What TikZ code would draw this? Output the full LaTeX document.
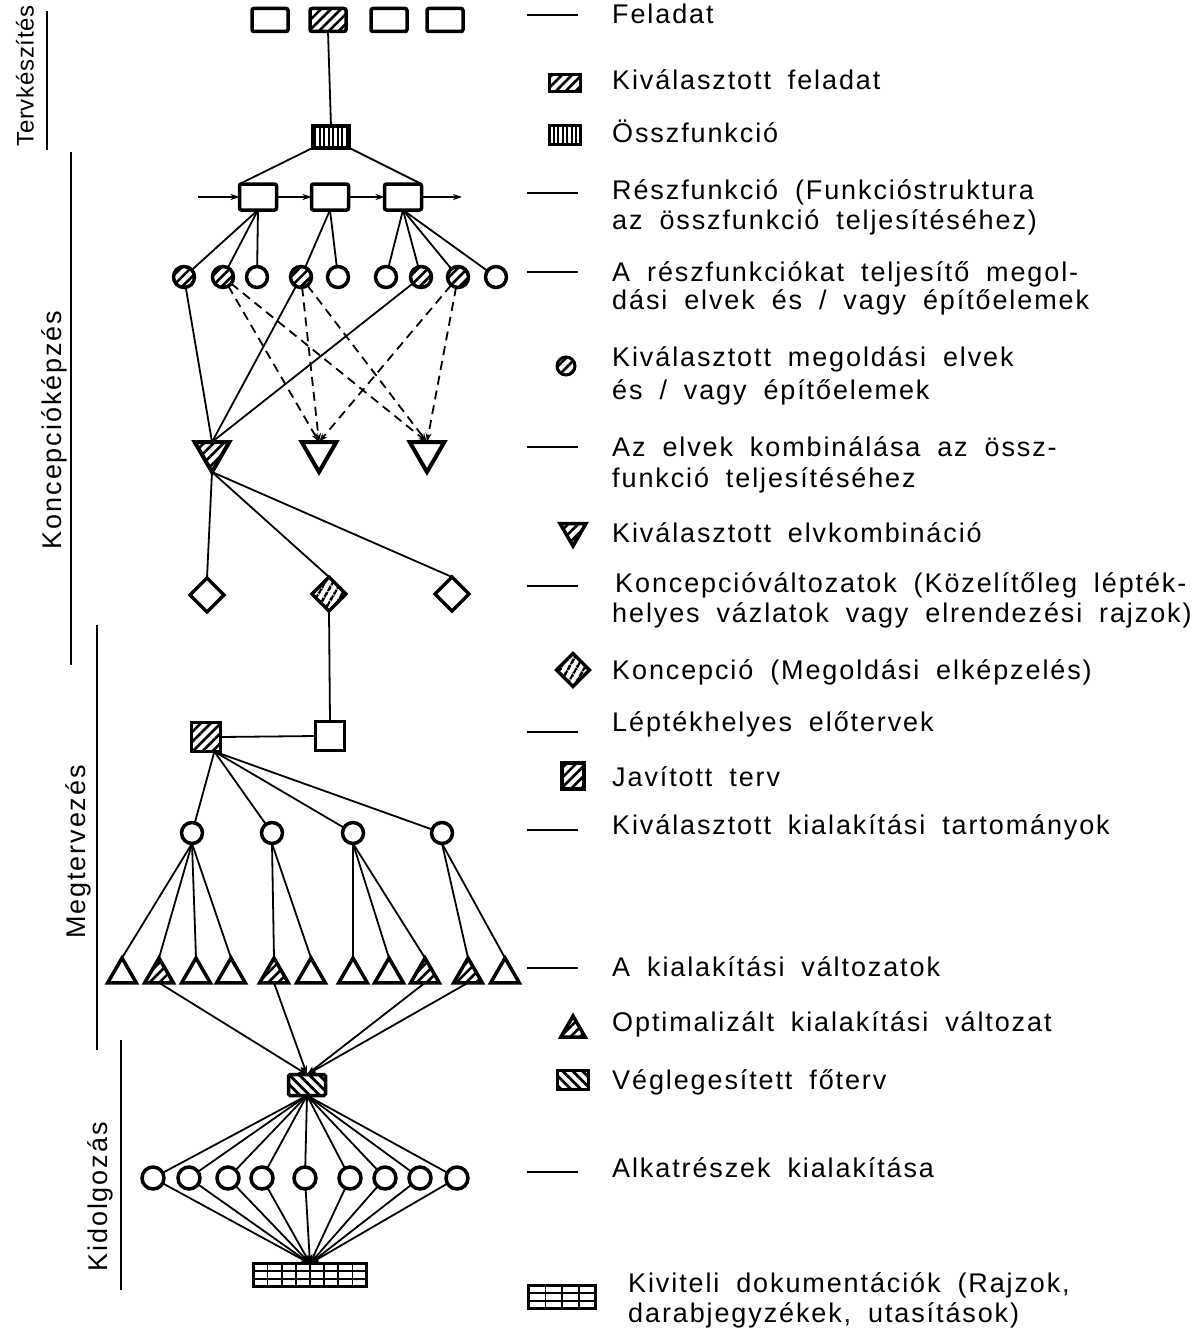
\documentclass[tikz,border=0pt]{standalone}
\usepackage{fontspec}
\setmainfont{Liberation Sans}[LetterSpace=7,WordSpace=1.8]
\usetikzlibrary{shapes.geometric,patterns.meta,arrows.meta,calc}
\newcommand\lgfont{\fontsize{27}{30}\selectfont}
\newcommand\phfont{\fontsize{24}{28}\selectfont\addfontfeatures{LetterSpace=3}}
\tikzset{
  conn/.style={line width=1.8pt},
  dconn/.style={line width=1.8pt, dash pattern=on 9pt off 6pt},
  tip/.style={-{Stealth[length=9pt,width=6pt]}},
  shp/.style={draw, line width=3.5pt, inner sep=0pt, outer sep=0pt},
  fbox/.style={shp, rounded corners=2pt, minimum width=36pt, minimum height=23pt},
  sfbox/.style={shp, rounded corners=2pt, minimum width=37pt, minimum height=26pt},
  rnd/.style={shp, circle, minimum size=21pt},
  dtri/.style={shp, regular polygon, regular polygon sides=3, regular polygon rotate=180, minimum size=40pt, line width=4pt},
  utri/.style={shp, regular polygon, regular polygon sides=3, minimum size=33pt},
  dia/.style={shp, diamond, minimum width=34pt, minimum height=34pt},
  sq/.style={shp, minimum size=29pt},
  hNE/.style={pattern={Lines[angle=45,distance=7pt,line width=2.6pt]}},
  hNW/.style={pattern={Lines[angle=-45,distance=7pt,line width=2.8pt]}},
  hV/.style={pattern={Lines[angle=90,distance=4.5pt,line width=2pt]}},
  hD/.style={pattern={Lines[angle=60,distance=6.5pt,line width=2.6pt]}},
  lbl/.style={anchor=west, inner sep=0pt, font=\lgfont, text height=19pt, text depth=0pt},
  phase/.style={rotate=90, inner sep=0pt, font=\lgfont, text height=19pt, text depth=0pt},
  lgline/.style={line width=1.8pt},
  phline/.style={line width=1.8pt}
}
\begin{document}
\begin{tikzpicture}[x=1pt,y=-1pt]
\fill[white] (0,0) rectangle (1200,1330);
\useasboundingbox (0,0) rectangle (1200,1330);

% ---------- phase labels on the left ----------
\node[phase, font=\phfont] (ph1) at (24,76) {Tervkészítés};
\node[phase] (ph2) at (52,430) {Koncepcióképzés};
\node[phase] (ph3) at (76,852) {Megtervezés};
\node[phase] (ph4) at (98,1197) {Kidolgozás};
\draw[phline] (47,11) -- (47,150);
\draw[phline] (71,152) -- (71,665);
\draw[phline] (97,625) -- (97,1050);
\draw[phline] (121,1040) -- (121,1290);

% ---------- tasks ----------
\node[fbox] (f1) at (270,20) {};
\node[fbox,hNE] (f2) at (328,20) {};
\node[fbox] (f3) at (389,20) {};
\node[fbox] (f4) at (445,20) {};

% overall function
\node[shp, minimum width=37pt, minimum height=22pt, hV] (ossz) at (331,137) {};

% sub-functions
\node[sfbox] (s1) at (258,197) {};
\node[sfbox] (s2) at (330,197) {};
\node[sfbox] (s3) at (403,197) {};
\coordinate (in0) at (198,197);
\coordinate (out0) at (462,197);

% solution principles
\foreach \n/\x/\h in {1/184/1,2/223/1,3/257/0,4/301/1,5/338/0,6/386/0,7/421/1,8/458/1,9/496/0}{
  \ifnum\h=1
    \node[rnd,hNE] (c\n) at (\x,277) {};
  \else
    \node[rnd] (c\n) at (\x,277) {};
  \fi
}

% combinations
\node[dtri,hNE] (t1) at (212,452) {};
\node[dtri] (t2) at (319,452) {};
\node[dtri] (t3) at (427,452) {};

% concept variants
\node[dia] (d1) at (207,595) {};
\node[dia,hD] (d2) at (329,594) {};
\node[dia] (d3) at (452,594) {};

% preliminary layouts
\node[sq,hNE] (p1) at (206,737) {};
\node[sq] (q1) at (330,736) {};

% selected form domains
\foreach \n/\x in {1/192,2/272,3/353,4/442}{
  \node[rnd] (k\n) at (\x,833) {};
}

% form variants
\foreach \n/\x/\h in {1/122/0,2/159/1,3/196/0,4/231/0,5/274/1,6/311/0,7/353/0,8/389/0,9/425/1,10/468/1,11/505/0}{
  \ifnum\h=1
    \node[utri,hNE] (u\n) at (\x,974.5) {};
  \else
    \node[utri] (u\n) at (\x,974.5) {};
  \fi
}

% definitive layout
\node[shp, rounded corners=1.5pt, minimum width=37pt, minimum height=21pt, hNW] (v1) at (307,1085) {};

% components
\foreach \n/\x in {1/153,2/189,3/228,4/262,5/305,6/350,7/385,8/420,9/457}{
  \node[rnd, minimum size=22pt] (m\n) at (\x,1178) {};
}

% documentation
\node[shp, minimum width=113pt, minimum height=23pt] (doc) at (310,1275) {};
\foreach \i in {1,...,7}{
  \draw[line width=1.6pt] ($(doc.north west)!\i/8!(doc.north east)$) -- ($(doc.south west)!\i/8!(doc.south east)$);
}
\foreach \i in {1,2}{
  \draw[line width=1.6pt] ($(doc.north west)!\i/3!(doc.south west)$) -- ($(doc.north east)!\i/3!(doc.south east)$);
}

% ---------- connectors ----------
\draw[conn] (f2.south) -- (ossz.north);
\draw[conn] (ossz.south west) -- (s1.north west);
\draw[conn] (ossz.south east) -- (s3.north east);
\draw[conn,tip] (in0) -- (s1.west);
\draw[conn,tip] (s1.east) -- (s2.west);
\draw[conn,tip] (s2.east) -- (s3.west);
\draw[conn,tip] (s3.east) -- (out0);

\foreach \c in {1,2,3}{ \draw[conn] (s1.south) -- (c\c); }
\foreach \c in {4,5}{ \draw[conn] (s2.south) -- (c\c); }
\foreach \c in {6,7,8,9}{ \draw[conn] (s3.south) -- (c\c); }

\foreach \c in {1,4,7}{ \draw[conn] (c\c) -- (t1.90); }
\foreach \c in {2,4,8}{
  \draw[dconn,tip] (c\c) -- (t2.90);
  \draw[dconn,tip] (c\c) -- (t3.90);
}

\foreach \d in {1,2,3}{ \draw[conn] (t1.-90) -- (d\d.north); }
\draw[conn] (d2.south) -- (q1.north);
\draw[conn] (p1.east) -- (q1.west);
\foreach \k in {1,2,3,4}{ \draw[conn] (p1.-60) -- (k\k); }

\foreach \u in {1,2,3,4}{ \draw[conn] (k1.south) -- (u\u.90); }
\foreach \u in {5,6}{ \draw[conn] (k2.south) -- (u\u.90); }
\foreach \u in {7,8,9}{ \draw[conn] (k3.south) -- (u\u.90); }
\foreach \u in {10,11}{ \draw[conn] (k4.south) -- (u\u.90); }

\foreach \u in {2,5,9,10}{ \draw[conn,tip] (u\u.-90) -- (v1.north); }
\foreach \m in {1,...,9}{
  \draw[conn] (v1.south) -- (m\m);
  \draw[conn,tip] (m\m) -- (doc.north);
}

% ---------- legend ----------
\foreach \y in {15,193,272,447,586,732,830,968,1172}{
  \draw[lgline] (527,\y) -- (578,\y);
}
\node[shp, line width=3pt, minimum width=31pt, minimum height=17pt, hNE] (lgA) at (565,83) {};
\node[shp, line width=3pt, minimum width=31pt, minimum height=19pt, hV] (lgB) at (565,135) {};
\node[rnd, line width=3pt, minimum size=18pt, hNE] (lgC) at (566,366) {};
\node[dtri, line width=3.5pt, minimum size=30pt, hNE] (lgD) at (573,531) {};
\node[dia, minimum width=33pt, minimum height=33pt, hD] (lgE) at (573,670) {};
\node[shp, minimum width=22pt, minimum height=26pt, hNE] (lgF) at (573,776) {};
\node[utri, minimum size=28pt, hNE] (lgG) at (573,1030) {};
\node[shp, line width=3pt, minimum width=31pt, minimum height=19pt, hNW] (lgH) at (573,1080) {};
\node[shp, line width=3pt, minimum width=67pt, minimum height=23pt] (lgI) at (562,1297) {};
\foreach \i in {1,2,3}{
  \draw[line width=1.5pt] ($(lgI.north west)!\i/4!(lgI.north east)$) -- ($(lgI.south west)!\i/4!(lgI.south east)$);
}
\foreach \i in {1,2}{
  \draw[line width=1.5pt] ($(lgI.north west)!\i/3!(lgI.south west)$) -- ($(lgI.north east)!\i/3!(lgI.south east)$);
}

\node[lbl] (l1) at (612,14) {Feladat};
\node[lbl] (l2) at (612,80) {Kiválasztott feladat};
\node[lbl] (l3) at (612,133) {Összfunkció};
\node[lbl] (l4a) at (612,190) {Részfunkció (Funkcióstruktura};
\node[lbl] (l4b) at (612,220) {az összfunkció teljesítéséhez)};
\node[lbl] (l5a) at (612,272) {A részfunkciókat teljesítő megol-};
\node[lbl] (l5b) at (612,300) {dási elvek és / vagy építőelemek};
\node[lbl] (l6a) at (612,357) {Kiválasztott megoldási elvek};
\node[lbl] (l6b) at (612,390) {és / vagy építőelemek};
\node[lbl] (l7a) at (612,447) {Az elvek kombinálása az össz-};
\node[lbl] (l7b) at (612,478) {funkció teljesítéséhez};
\node[lbl] (l8) at (612,533) {Kiválasztott elvkombináció};
\node[lbl] (l9a) at (615,583) {Koncepcióváltozatok (Közelítőleg lépték-};
\node[lbl] (l9b) at (612,613) {helyes vázlatok vagy elrendezési rajzok)};
\node[lbl] (l10) at (612,670) {Koncepció (Megoldási elképzelés)};
\node[lbl] (l11) at (612,722) {Léptékhelyes előtervek};
\node[lbl] (l12) at (612,777) {Javított terv};
\node[lbl] (l13) at (612,825) {Kiválasztott kialakítási tartományok};
\node[lbl] (l14) at (612,967) {A kialakítási változatok};
\node[lbl] (l15) at (612,1022) {Optimalizált kialakítási változat};
\node[lbl] (l16) at (612,1080) {Véglegesített főterv};
\node[lbl] (l17) at (612,1168) {Alkatrészek kialakítása};
\node[lbl] (l18a) at (628,1283) {Kiviteli dokumentációk (Rajzok,};
\node[lbl] (l18b) at (628,1313) {darabjegyzékek, utasítások)};
\end{tikzpicture}
\end{document}
